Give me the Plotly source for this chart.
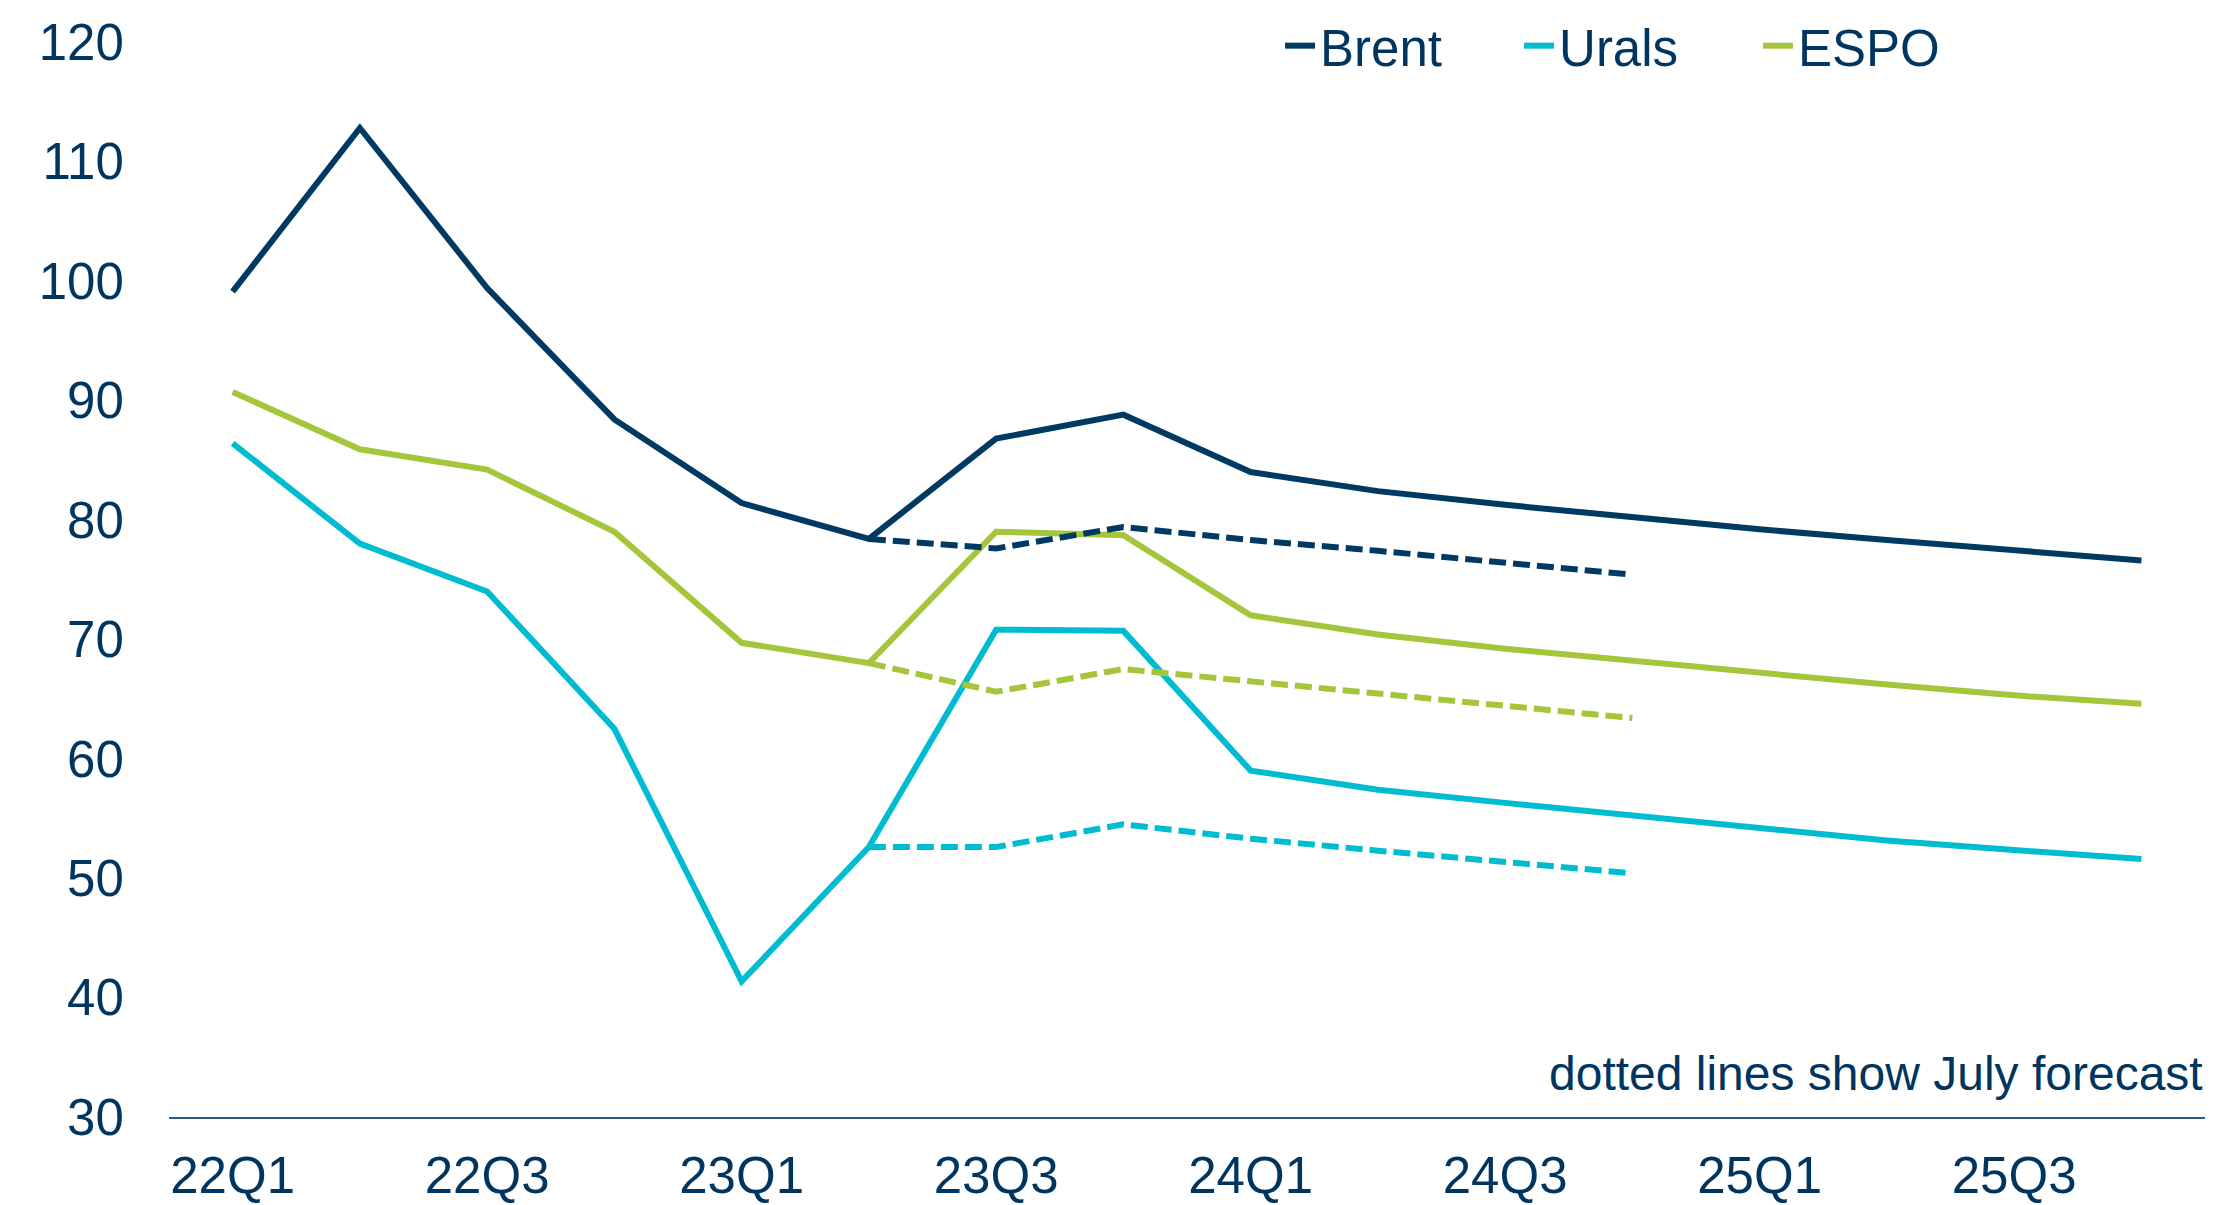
import plotly.graph_objects as go

quarters = ["22Q1", "22Q2", "22Q3", "22Q4", "23Q1", "23Q2", "23Q3", "23Q4",
            "24Q1", "24Q2", "24Q3", "24Q4", "25Q1", "25Q2", "25Q3", "25Q4"]
tick_labels = ["22Q1", "22Q3", "23Q1", "23Q3", "24Q1", "24Q3", "25Q1", "25Q3"]
y_ticks = [30, 40, 50, 60, 70, 80, 90, 100, 110, 120]

brent = [99.1, 112.8, 99.4, 88.4, 81.4, 78.4, 86.8, 88.8,
         84.0, 82.4, 81.25, 80.2, 79.2, 78.3, 77.5, 76.6]
urals = [86.4, 78.0, 74.0, 62.5, 41.35, 52.6, 70.8, 70.7,
         59.0, 57.4, 56.3, 55.25, 54.1, 53.15, 52.35, 51.6]
espo = [90.7, 85.9, 84.2, 79.0, 69.7, 68.0, 79.0, 78.7,
        72.0, 70.4, 69.2, 68.2, 67.15, 66.2, 65.3, 64.6]

july_quarters = ["23Q2", "23Q3", "23Q4", "24Q1", "24Q2", "24Q3", "24Q4"]
brent_july = [78.4, 77.6, 79.4, 78.3, 77.4, 76.4, 75.4]
urals_july = [52.6, 52.6, 54.5, 53.3, 52.3, 51.3, 50.4]
espo_july = [68.0, 65.6, 67.5, 66.5, 65.5, 64.5, 63.4]

C_BRENT = "#003A63"
C_URALS = "#00BCD0"
C_ESPO = "#A5C63B"
C_TEXT = "#00355F"
FONT = "Liberation Sans, Arial, sans-serif"

fig = go.Figure()
for name, vals, col in [("Brent", brent, C_BRENT), ("Urals", urals, C_URALS), ("ESPO", espo, C_ESPO)]:
    fig.add_trace(go.Scatter(x=quarters, y=vals, mode="lines", name=name,
                             line=dict(color=col, width=6)))
for name, vals, col in [("Brent July", brent_july, C_BRENT), ("Urals July", urals_july, C_URALS),
                        ("ESPO July", espo_july, C_ESPO)]:
    fig.add_trace(go.Scatter(x=july_quarters, y=vals, mode="lines", name=name, showlegend=False,
                             line=dict(color=col, width=6, dash="17px,7px")))

fig.update_layout(
    width=2213, height=1205,
    margin=dict(l=169, r=8, t=42, b=88, autoexpand=False),
    paper_bgcolor="white", plot_bgcolor="white",
    font=dict(family=FONT, color=C_TEXT, size=51),
    showlegend=True,
    legend=dict(orientation="h", x=0.5457, xanchor="left",
                yref="container", y=0.995, yanchor="top",
                font=dict(size=51, color=C_TEXT), bgcolor="rgba(0,0,0,0)",
                traceorder="normal", itemwidth=30, entrywidth=194, entrywidthmode="pixels"),
    annotations=[dict(text="dotted lines show July forecast", xref="paper", yref="paper",
                      x=1.0, y=1 - (1073 - 42) / (1117 - 42), xanchor="right", yanchor="middle",
                      showarrow=False, font=dict(size=48, color=C_TEXT))],
)
fig.update_xaxes(type="category", categoryorder="array", categoryarray=quarters,
                 range=[-0.5, 15.5], tickmode="array", tickvals=tick_labels, ticktext=tick_labels,
                 showgrid=False, zeroline=False, showline=True, linecolor="#2B5C88", linewidth=2,
                 ticks="outside", ticklen=0, ticklabelstandoff=13, automargin=False,
                 tickfont=dict(size=51, color=C_TEXT))
fig.update_yaxes(range=[30, 120], tickvals=y_ticks,
                 showgrid=False, zeroline=False, showline=False,
                 ticks="outside", ticklen=0, ticklabelstandoff=34, automargin=False,
                 tickfont=dict(size=51, color=C_TEXT))

fig.write_html("out.html", config={"displayModeBar": False},
               post_script="document.body.style.margin='0px';document.body.style.overflow='hidden';")
